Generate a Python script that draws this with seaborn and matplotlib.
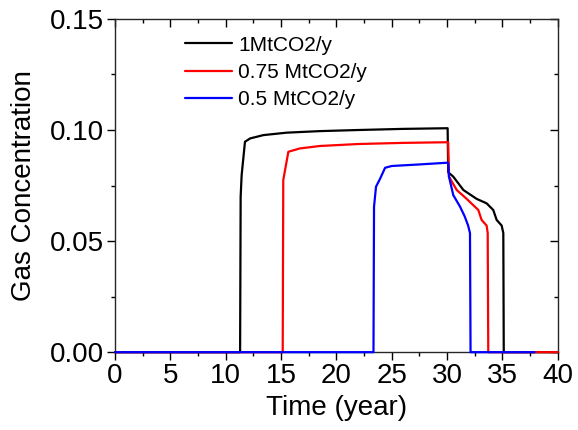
import numpy as np
import pandas as pd
import matplotlib
matplotlib.use('Agg')
import matplotlib.pyplot as plt
from matplotlib.ticker import MultipleLocator, FormatStrFormatter
import seaborn as sns

# --- Dados ---
t_1mt = [0, 11.3, 11.35, 11.44, 11.74, 12.2, 13.4, 15.5, 18.5, 22, 26, 30.05,
         30.1, 30.56, 31.47, 32.67, 33.57, 34.17, 34.48, 34.93, 35.08, 35.12, 40]
c_1mt = [0, 0, 0.070, 0.0797, 0.0947, 0.0962, 0.0977, 0.0988, 0.0995, 0.1000, 0.1005, 0.1008,
         0.081, 0.079, 0.073, 0.069, 0.067, 0.064, 0.0595, 0.057, 0.0536, 0, 0]

t_075mt = [0, 15.15, 15.2, 15.66, 16.7, 18.5, 22, 26, 30.1,
           30.17, 30.87, 31.77, 32.82, 33.12, 33.57, 33.67, 33.72, 40]
c_075mt = [0, 0, 0.0775, 0.0902, 0.0917, 0.0928, 0.0937, 0.0942, 0.0945,
           0.079, 0.073, 0.069, 0.064, 0.0595, 0.057, 0.0536, 0, 0]

t_05mt = [0, 23.35, 23.4, 23.58, 23.94, 24.4, 25, 27.5, 30.1,
          30.17, 30.56, 31.17, 31.6, 31.9, 32.07, 32.12, 37.9]
c_05mt = [0, 0, 0.0655, 0.0745, 0.078, 0.083, 0.0838, 0.0845, 0.0853,
          0.079, 0.0707, 0.0655, 0.061, 0.057, 0.0536, 0, 0]

labels = ['1MtCO2/y', '0.75 MtCO2/y', '0.5 MtCO2/y']
colors = ['black', 'red', 'blue']

df = pd.concat([
    pd.DataFrame({'t': t_1mt, 'c': c_1mt, 'caso': labels[0]}),
    pd.DataFrame({'t': t_075mt, 'c': c_075mt, 'caso': labels[1]}),
    pd.DataFrame({'t': t_05mt, 'c': c_05mt, 'caso': labels[2]}),
], ignore_index=True)

sns.set_style('ticks')
plt.rcParams['font.family'] = ['Liberation Sans', 'DejaVu Sans']
plt.rcParams['text.color'] = 'black'
plt.rcParams['axes.labelcolor'] = 'black'
plt.rcParams['xtick.color'] = 'black'
plt.rcParams['ytick.color'] = 'black'

fig, ax = plt.subplots(figsize=(5.78, 4.30), dpi=100)
fig.subplots_adjust(left=0.199, right=0.965, top=0.956, bottom=0.181)

sns.lineplot(data=df, x='t', y='c', hue='caso', hue_order=labels,
             palette=colors, estimator=None, sort=False, lw=1.6, ax=ax)
for line in ax.get_lines():
    line.set_clip_on(False)
    line.set_zorder(3)

ax.set_xlim(0, 40)
ax.set_ylim(0, 0.15)
ax.xaxis.set_major_locator(MultipleLocator(5))
ax.xaxis.set_minor_locator(MultipleLocator(2.5))
ax.yaxis.set_major_locator(MultipleLocator(0.05))
ax.yaxis.set_minor_locator(MultipleLocator(0.025))
ax.yaxis.set_major_formatter(FormatStrFormatter('%.2f'))
ax.tick_params(which='major', direction='out', length=6, width=1, labelsize=20, pad=2)
ax.tick_params(which='minor', direction='out', length=3, width=1)
for s in ax.spines.values():
    s.set_visible(True)
    s.set_linewidth(1)

# ticks do topo/direita para dentro
sec_x = ax.secondary_xaxis('top')
sec_x.xaxis.set_major_locator(MultipleLocator(5))
sec_x.xaxis.set_minor_locator(MultipleLocator(2.5))
sec_x.tick_params(which='major', direction='in', length=6, width=1, labeltop=False)
sec_x.tick_params(which='minor', direction='in', length=3, width=1)
sec_x.spines['top'].set_visible(False)
sec_y = ax.secondary_yaxis('right')
sec_y.yaxis.set_major_locator(MultipleLocator(0.05))
sec_y.yaxis.set_minor_locator(MultipleLocator(0.025))
sec_y.tick_params(which='major', direction='in', length=6, width=1, labelright=False)
sec_y.tick_params(which='minor', direction='in', length=3, width=1)
sec_y.spines['right'].set_visible(False)

ax.set_xlabel('Time (year)', fontsize=20, labelpad=4)
ax.set_ylabel('Gas Concentration', fontsize=20, labelpad=9)

leg = ax.legend(loc='upper left', bbox_to_anchor=(0.158, 0.95), frameon=False,
                fontsize=15, handlelength=2.26, handletextpad=0.3, labelspacing=0.4,
                borderpad=0, borderaxespad=0)
for line in leg.get_lines():
    line.set_linewidth(1.6)

fig.savefig('out.png', dpi=100)
